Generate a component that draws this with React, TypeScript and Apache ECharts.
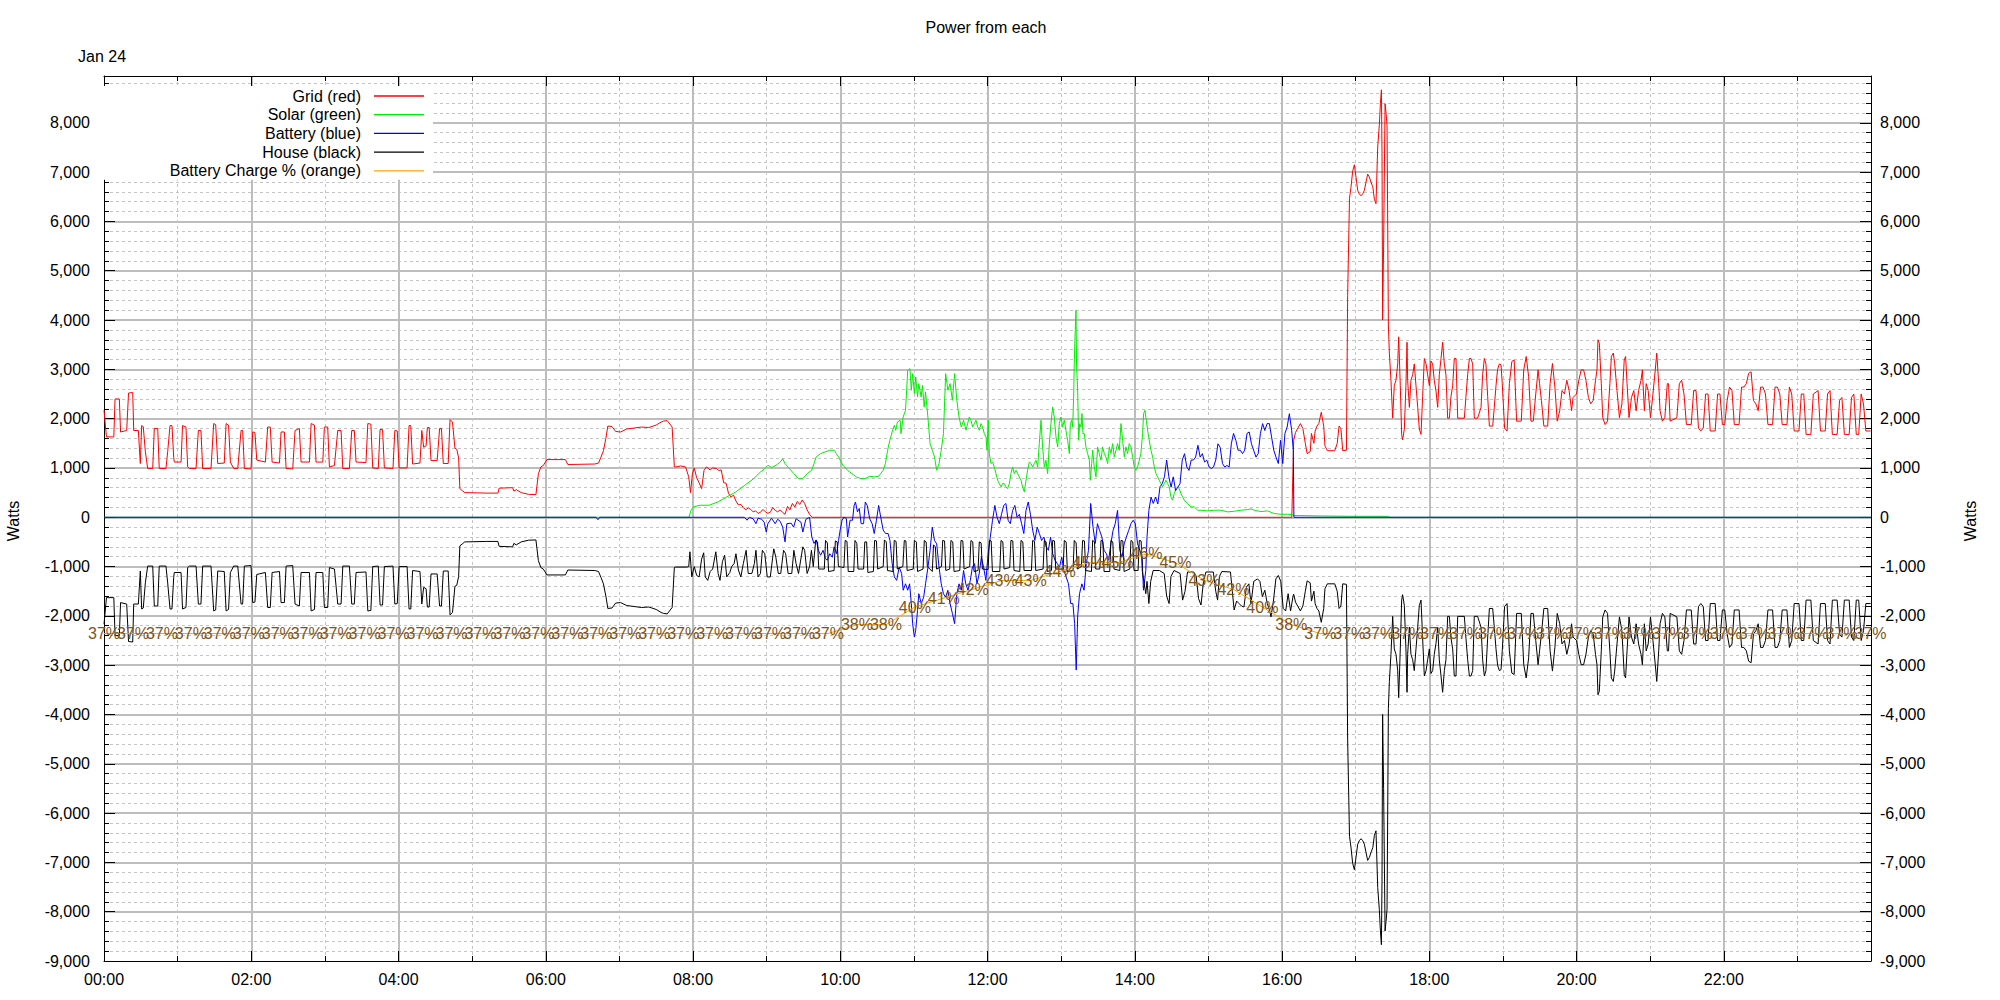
import React, { useEffect, useRef } from 'react';
import * as echarts from 'echarts';

const FONT = '"Liberation Sans", Arial, Helvetica, sans-serif';

// time axis is minutes after midnight (Jan 24)
const hourLabels = ['00:00', '02:00', '04:00', '06:00', '08:00', '10:00', '12:00', '14:00', '16:00', '18:00', '20:00', '22:00'];
const seriesNames = ['Grid (red)', 'Solar (green)', 'Battery (blue)', 'House (black)', 'Battery Charge % (orange)'];
const seriesColors = ['#ff0000', '#00ee00', '#0000ff', '#000000', '#ffa500'];

const gridNight = [
[0,2170],[2,1630],[8,1630],[9,2400],[12.5,2400],[13.5,1730],[18.5,1760],[20,2520],[23.4,2530],[24.2,1760],[28,1760],[29.6,1090],[30.7,1860],[32,1840],[33.7,1330],[35.6,990],[39.7,990],[41,1800],[43.8,1800],[45,990],[50.5,990],[51.9,1330],[53.8,1860],[55.4,1860],[56.8,1220],[57.3,1120],[62.8,1120],[64,1860],[66.8,1830],[68.2,1020],[69.6,990],[75,990],[76.9,1760],[79,1760],[80.4,990],[87.2,990],[89.4,1900],[91,1880],[92.7,1090],[98,1100],[99.5,1900],[101.5,1870],[103,1120],[105.7,990],[109,990],[111.7,1760],[113,1760],[114.4,990],[119.8,980],[121.2,1730],[123,1720],[124.5,1160],[131.5,1120],[133.4,1830],[135.5,1830],[137,1120],[143,1100],[144.3,1730],[147,1730],[148.4,990],[153.8,980],[155.7,1760],[159.2,1800],[160.6,1120],[167.4,1120],[168.8,1900],[171.5,1870],[172.8,1120],[178.3,1120],[179.6,1830],[182.3,1830],[183.7,1020],[187.8,1050],[190.5,1760],[193.2,1760],[194.6,990],[200,990],[201.9,1760],[204,1760],[205.4,1120],[213.5,1110],[215,1900],[217.5,1890],[219,1000],[223.5,990],[225,1780],[227,1780],[228.5,1000],[235.5,990],[237,1760],[239,1750],[240.5,1000],[247,1000],[248.6,1860],[250,1860],[251.5,1080],[257.5,1100],[259,1760],[260.5,1420],[262.5,1450],[263.5,1820],[265,1820],[266.5,1150],[271.5,1150],[273.5,1800],[275,1800],[276.5,1090],[280.5,1090],[282,1980],[284,1930],[286,1400],[287.5,1380],[289,1200],[290,580],[292,540],[294,500],[312,490],[321,490],[322,590],[333,600],[334,530],[336,560],[340,500],[346,465],[352,460],[354,880],[356,1020],[358,1050],[361,1170],[376,1170],[378,1070],[400,1080],[403,1100],[405,1220],[407,1350],[409,1600],[410.6,1850],[414,1840],[417,1740],[421,1730],[426,1790],[432,1810],[438,1830],[444,1820],[450,1870],[454,1930],[456,1950],[459,1960],[463,1830],[464.8,1020]
];
const gridDay = [
[466,1020],[470,1040],[474,1020],[476.5,820],[478,500],[479.5,880],[481,1000],[483,800],[485,700],[487,580],[489,950],[491,1020],[494,960],[496,1000],[499,990],[501,950],[503,960],[505,700],[507,690],[509,480],[511,410],[513,450],[515,330],[517,250],[519,260],[521,200],[523,150],[525,190],[527,160],[529,110],[531,130],[533,80],[535,100],[537,160],[539,110],[541,80],[543,100],[545,200],[547,140],[549,110],[551,150],[553,100],[555,60],[557,220],[559,150],[561,280],[563,210],[565,320],[567,260],[569,350],[571,280],[573,150],[575,60],[577,0],[968,0]
];
const gridEvening = [
[969.5,1560],[971,1720],[975,1900],[977,1800],[979,1500],[980.5,1290],[983,1330],[984,1700],[986,1500],[987,1750],[988.5,1850],[990,1900],[992,2130],[994,1850],[995,1450],[997,1350],[1003,1350],[1005,1500],[1006.5,1850],[1008,1800],[1009.5,1350],[1012.5,1360],[1013.5,4500],[1015,6470],[1016.2,6690],[1017.6,7020],[1019,7150],[1020.3,6900],[1021.7,6630],[1023,6560],[1024.4,6520],[1025.8,6560],[1027.1,6630],[1028.5,6800],[1029.8,6960],[1031.2,6900],[1032.5,6800],[1034,6700],[1035.3,6450],[1036.6,6360],[1038,7510],[1039.3,7950],[1040.2,8390],[1041,8670],[1041.5,7400],[1042,4000],[1042.8,5500],[1044,8390],[1044.8,8200],[1045.6,7950],[1046.7,3880],[1047.5,3330],[1048.8,2780],[1050.2,2010],[1051.5,2670],[1052.9,2780],[1054.3,3110],[1055.1,3660],[1056.4,2670],[1057.5,1680],[1058.3,1570],[1059.7,1790],[1061,2670],[1061.9,3550],[1062.4,2780],[1063.8,2230],[1065.1,2780],[1066.5,2890],[1067.8,3110],[1069.2,2670],[1070.6,2230],[1071.9,1790],[1073.3,1680],[1074.6,2450],[1076,3220],[1077.4,3110],[1078.7,2890],[1080.1,2670],[1081.4,3170],[1082.8,3110],[1084.1,2780],[1085.5,2560],[1086.9,2230],[1088.2,2890],[1089.6,3220],[1090.9,3550],[1092.3,3110],[1093.6,2890],[1095,2010],[1096.4,2010],[1097.7,2450],[1099.1,2670],[1100.4,3220],[1101.8,3220],[1103.2,2010],[1108.6,2010],[1109.9,2450],[1111.3,2890],[1112.7,3220],[1114,3220],[1115.4,3110],[1116.7,2010],[1119.4,2010],[1122.2,2230],[1123.5,2890],[1124.9,3220],[1126.2,3110],[1127.6,2450],[1129,1850],[1131.7,1850],[1133,2230],[1134.4,2670],[1135.7,3000],[1137.1,3110],[1138.5,3090],[1139.5,2710],[1141.4,1810],[1143.4,1750],[1145.3,2710],[1147.3,3160],[1149.2,3190],[1151.2,1950],[1155,1950],[1157,2990],[1159,3260],[1161,2850],[1162.9,1950],[1164.8,1950],[1166.8,2500],[1168.7,2990],[1169.9,2710],[1171.4,2370],[1173.4,1850],[1176.5,1850],[1178.5,2710],[1180.4,3120],[1182.4,2640],[1184.3,1950],[1186.3,2160],[1188.2,2570],[1190.2,2500],[1192.1,2780],[1194,2570],[1196,2160],[1197.2,2430],[1200,2500],[1201.9,2780],[1203.8,2990],[1205.8,2990],[1207.7,2780],[1209.7,2430],[1211.6,2300],[1213.6,2370],[1215.5,2780],[1216.7,2990],[1217.5,3600],[1218.6,3530],[1220.2,2710],[1221.4,2020],[1223.3,1880],[1225.3,1950],[1227.2,2710],[1228.4,3260],[1230,3330],[1231.1,3120],[1233,2570],[1235,2020],[1237,2300],[1238.9,3190],[1240,3260],[1241.2,2710],[1242.8,2020],[1244.8,2430],[1246.7,2570],[1248.6,2160],[1250.6,2570],[1252.6,2780],[1253.7,2990],[1255.3,2160],[1256.8,2710],[1258.4,2570],[1260.3,2020],[1262.3,2500],[1264.2,2990],[1265.4,3330],[1267,2710],[1268.1,2160],[1270,1950],[1272,2020],[1274,2710],[1275,2710],[1276.3,1950],[1281.8,2020],[1283.8,2710],[1285.7,2780],[1287.6,2500],[1289.6,1880],[1293.5,1880],[1295.5,2570],[1297.4,2570],[1299.4,1810],[1301.3,1750],[1303.3,1810],[1305.2,2500],[1307.2,2500],[1309,1750],[1313,1750],[1315,2500],[1316.9,2500],[1318.9,1880],[1320.8,1880],[1322.8,2370],[1324.7,2640],[1326.7,2570],[1328.6,1880],[1332.5,1880],[1334.5,2640],[1336.4,2640],[1338.4,2710],[1340.3,2920],[1342.3,2950],[1344.2,2370],[1346.2,2300],[1348.1,2160],[1350,2640],[1352,2640],[1354,2500],[1356,1880],[1359.8,1880],[1361.8,2640],[1363.7,2640],[1365.7,2500],[1367.6,1880],[1371.5,1880],[1373.5,2640],[1375.4,2500],[1377.4,1750],[1381.3,1750],[1383.2,2500],[1385.2,2500],[1387.1,1680],[1391,1680],[1393,2500],[1396.9,2570],[1398.8,1750],[1402.7,1750],[1404.6,2500],[1406.6,2570],[1408.5,1680],[1412.4,1680],[1414.4,2370],[1416.3,2430],[1418.3,1680],[1422.2,1680],[1424.1,2430],[1426,2500],[1428,1680],[1430,1680],[1432,2500],[1433.9,2300],[1435.8,1750],[1439.7,1750]
];

const solarDay = [
[0,0],[476.7,0],[478.5,150],[480.4,210],[485.8,244],[493.1,244],[500.4,311],[507.6,413],[514.9,514],[522.2,649],[529.5,784],[535,920],[538.6,987],[541.1,1055],[544,1007],[547.7,1055],[551.3,1122],[553.1,1190],[555,1089],[558.6,987],[562.2,886],[565.9,784],[569.5,784],[573.1,886],[576.8,953],[580.4,1224],[584,1291],[587.7,1325],[591.3,1359],[595,1359],[596.8,1291],[598.6,1224],[602.2,1055],[605.9,953],[609.5,886],[613.1,818],[616.8,784],[620.4,784],[624,832],[627.7,818],[631.3,832],[635,953],[636.8,1089],[638.6,1359],[640.4,1562],[642.3,1731],[644.1,1866],[645.2,1765],[646.6,1934],[648.8,1967],[649.5,1697],[651.3,2035],[653.2,2170],[655,2981],[656.8,3015],[657.9,2576],[659,2914],[660.4,2508],[661.5,2846],[663,2441],[664,2711],[665.9,2441],[667,2677],[668.4,2238],[669.5,2542],[671.4,2035],[673.2,1494],[675,1359],[676.8,1224],[678.6,953],[680.5,1089],[682.3,1359],[684.1,1697],[685.9,2914],[687.7,2576],[689.5,2711],[691.4,2373],[693.2,2914],[695,2373],[696.8,2035],[698.6,1832],[700.5,1967],[702.5,1765],[703.8,1900],[705.2,2035],[706.5,1968],[707.9,1833],[709.3,1900],[710.6,1968],[712,1833],[713.3,1765],[714.7,1900],[716,1833],[717.4,1697],[718.8,1630],[719.6,1359],[720.7,1968],[721.5,1292],[722.8,1089],[724.2,1123],[725.5,1021],[726.9,886],[728.3,751],[729.6,683],[731,616],[732.3,683],[733.7,683],[735,616],[736.4,582],[737.8,683],[739.1,886],[740.5,1021],[741.8,886],[743.2,954],[744.6,886],[745.9,819],[747.3,751],[748.6,616],[750,514],[751.4,751],[752.7,954],[754.1,1123],[755.4,1089],[756.8,1021],[758.1,1089],[759.5,1157],[760.9,1021],[762.2,1494],[763.6,1968],[764.9,1427],[766.3,1021],[767.6,1157],[769,886],[770.4,1494],[771.7,1900],[773.1,2238],[774.4,2035],[775.8,1630],[777.2,1427],[778.5,1900],[779.9,2035],[781.2,1833],[782.6,1968],[783.9,1765],[785.3,1562],[786.7,1292],[787.5,1900],[788.6,1968],[789.4,1833],[790.2,2441],[790.7,3117],[791.5,3793],[792.1,4199],[792.6,3050],[793.4,2644],[794.3,1562],[795.1,1900],[796.2,1833],[797,2103],[797.8,1697],[798.9,1697],[800.2,1427],[801.6,1292],[803,1157],[803.8,751],[804.9,1089],[805.7,1359],[807,1021],[808.4,819],[809.7,1427],[811.1,1292],[812.5,1157],[813.8,1427],[815.2,1292],[816.5,1224],[817.9,1089],[819.3,1427],[820.6,1292],[822,1494],[823.3,1224],[824.7,1359],[826,1494],[827.4,1359],[828.8,1900],[830.1,1562],[831.5,1224],[832.8,1427],[834.2,1292],[835.5,1494],[836.9,1427],[838.3,1224],[839.6,1021],[841,954],[842.3,1021],[843.7,1157],[845,1292],[846.4,1697],[847.2,2103],[848.3,2170],[849.4,1968],[850.5,1765],[851.8,1562],[853.2,1359],[854.6,1224],[855.9,1021],[857.3,886],[858.6,819],[860,751],[861.3,683],[862.7,616],[864.1,683],[865.4,751],[866.8,683],[868.1,616],[869.5,413],[870.8,346],[872.2,481],[873.6,582],[874.9,616],[876.3,582],[877.6,481],[879,413],[880.4,346],[883.1,278],[885.8,210],[888.5,210],[891.2,143],[893.9,143],[899.4,129],[904.8,143],[910.2,143],[915.7,109],[921.1,122],[926.5,143],[932,156],[934.7,170],[937.4,143],[942.8,116],[948.3,129],[953.7,75],[959.1,61],[964.6,61],[968.6,54],[970,34],[975.4,34],[989,27],[1016,20],[1046,20],[1048,0],[1440,0]
];

const batteryDay = [
[0,0],[401,0],[402.5,-50],[404,0],[522,0],[524,-60],[526,0],[529,-30],[531.3,-130],[533,-20],[536,-40],[538,-100],[539.7,-300],[541,-130],[544,-20],[547,-130],[549,-40],[551,-80],[553.1,-200],[555,-500],[556.5,-130],[560,-120],[562,-200],[564,-30],[568,-100],[569.5,-300],[572,-40],[575,0],[576.8,-400],[578.6,-530],[580.5,-460],[582.2,-670],[584,-770],[586,-670],[588,-840],[589.5,-870],[591.5,-740],[593.5,-810],[595,-600],[597,-740],[598.6,-470],[600,-250],[601.5,-60],[603,0],[605,-30],[606,-400],[608,-60],[610,-60],[611.3,240],[612.4,310],[614,110],[615.5,180],[617,-130],[619,-130],[620.4,310],[622,240],[624,-30],[626,-130],[627.7,-330],[629.5,-60],[631.3,240],[633,0],[635,-260],[637,-330],[639,-330],[640.5,-470],[642.3,-940],[644.1,-1210],[646,-1280],[648,-1010],[650,-1140],[651.3,-1480],[653.2,-1350],[655,-1480],[656.5,-1350],[657.9,-1750],[659,-2160],[660.4,-2430],[661.5,-2290],[663,-1890],[664,-1550],[666,-1750],[668,-1620],[669.5,-1350],[671.5,-1010],[673.2,-670],[675,-200],[676.8,-470],[678.6,-540],[680.5,-1010],[682.3,-1350],[684.1,-1550],[685.9,-1620],[687.7,-1480],[689.5,-1750],[691.4,-1950],[693.2,-2160],[695,-1550],[696.8,-1350],[698.6,-1480],[700.5,-1080],[702.3,-1350],[704.1,-1480],[706,-1280],[707.7,-1010],[709.5,-940],[711.4,-1350],[713.2,-1150],[715,-810],[716.8,-1010],[718.7,-1280],[720.5,-740],[722.3,-400],[724.1,-60],[726,240],[727.8,0],[729.6,-130],[731.4,60],[733.2,240],[735,280],[736.8,-60],[738.6,-130],[740.5,140],[742.3,240],[744.1,0],[746,60],[747.8,-130],[749.6,-330],[751.4,140],[753.2,310],[755,60],[756.8,-260],[758.6,-470],[760.5,-200],[762.3,-330],[764.1,-470],[766,-400],[767.8,-600],[769.6,-670],[771.4,-400],[773.2,-740],[775,-870],[776.9,-940],[778.7,-1010],[780.5,-810],[782.3,-1080],[784.1,-1210],[786,-1350],[787.8,-1750],[789.6,-1750],[791,-2150],[792.3,-3100],[793.5,-2000],[795,-1550],[796.9,-1350],[798.7,-1480],[800.5,-940],[802.3,-670],[804.1,280],[806,-200],[807.8,-530],[809.6,-130],[811.4,-270],[813.2,-400],[815,-670],[816.9,-740],[818.7,-870],[820.5,-540],[822.3,-270],[824.1,-130],[826,140],[827.8,-670],[829.6,-810],[831.4,-540],[833.2,-400],[835,-270],[836.9,-130],[838.7,-60],[840.5,-130],[842.3,-540],[844.1,-670],[846,-810],[847.1,-1480],[849,-1080],[850,-400],[851.5,140],[853.3,410],[855.1,280],[857,410],[858.8,270],[860.6,620],[862.4,680],[864.2,820],[866,1160],[867.8,820],[869.6,610],[871.4,820],[873.3,540],[875.1,610],[876.9,680],[878.7,1160],[880.6,1290],[882.4,1020],[884.2,950],[886,1160],[887.8,1160],[889.6,1220],[891.5,1460],[893.3,1220],[895.1,1290],[896.9,1120],[898.7,1160],[900.6,1020],[902.4,990],[904.2,1020],[906,1160],[907.8,1490],[909.6,1420],[911.5,1090],[913.3,1020],[915.1,1050],[916.9,1020],[918.7,1490],[920.5,1700],[922.4,1560],[924.2,1360],[926,1360],[927.8,1290],[929.6,1360],[931.5,1700],[933.3,1730],[935.1,1490],[936.9,1360],[938.8,1220],[940.6,1290],[942.4,1700],[944.2,1900],[946,1760],[947.9,1900],[949.7,1900],[951.5,1630],[953.3,1360],[955.1,1220],[957,1090],[958.8,1560],[960.6,1090],[962.4,1700],[964.2,1830],[966,2100],[967.9,1760],[969.2,1360],[969.7,0],[1440,0]
];

const houseNight = [
[0,-2170],[2,-1630],[8,-1630],[9,-2400],[12.5,-2400],[13.5,-1730],[18.5,-1760],[20,-2520],[23.4,-2530],[24.2,-1760],[28,-1760],[29.6,-1090],[30.7,-1860],[32,-1840],[33.7,-1330],[35.6,-990],[39.7,-990],[41,-1800],[43.8,-1800],[45,-990],[50.5,-990],[51.9,-1330],[53.8,-1860],[55.4,-1860],[56.8,-1220],[57.3,-1120],[62.8,-1120],[64,-1860],[66.8,-1830],[68.2,-1020],[69.6,-990],[75,-990],[76.9,-1760],[79,-1760],[80.4,-990],[87.2,-990],[89.4,-1900],[91,-1880],[92.7,-1090],[98,-1100],[99.5,-1900],[101.5,-1870],[103,-1120],[105.7,-990],[109,-990],[111.7,-1760],[113,-1760],[114.4,-990],[119.8,-980],[121.2,-1730],[123,-1720],[124.5,-1160],[131.5,-1120],[133.4,-1830],[135.5,-1830],[137,-1120],[143,-1100],[144.3,-1730],[147,-1730],[148.4,-990],[153.8,-980],[155.7,-1760],[159.2,-1800],[160.6,-1120],[167.4,-1120],[168.8,-1900],[171.5,-1870],[172.8,-1120],[178.3,-1120],[179.6,-1830],[182.3,-1830],[183.7,-1020],[187.8,-1050],[190.5,-1760],[193.2,-1760],[194.6,-990],[200,-990],[201.9,-1760],[204,-1760],[205.4,-1120],[213.5,-1110],[215,-1900],[217.5,-1890],[219,-1000],[223.5,-990],[225,-1780],[227,-1780],[228.5,-1000],[235.5,-990],[237,-1760],[239,-1750],[240.5,-1000],[247,-1000],[248.6,-1860],[250,-1860],[251.5,-1080],[257.5,-1100],[259,-1760],[260.5,-1420],[262.5,-1450],[263.5,-1820],[265,-1820],[266.5,-1150],[271.5,-1150],[273.5,-1800],[275,-1800],[276.5,-1090],[280.5,-1090],[282,-1980],[284,-1930],[286,-1400],[287.5,-1380],[289,-1200],[290,-580],[292,-540],[294,-500],[312,-490],[321,-490],[322,-590],[333,-600],[334,-530],[336,-560],[340,-500],[346,-465],[352,-460],[354,-880],[356,-1020],[358,-1050],[361,-1170],[376,-1170],[378,-1070],[400,-1080],[403,-1100],[405,-1220],[407,-1350],[409,-1600],[410.6,-1850],[414,-1840],[417,-1740],[421,-1730],[426,-1790],[432,-1810],[438,-1830],[444,-1820],[450,-1870],[454,-1930],[456,-1950],[459,-1960],[463,-1830],[464.8,-1020]
];
const houseDay = [
[466,-1010],[475,-1010],[476.5,-1000],[477.5,-700],[479,-1210],[481,-1000],[483,-1180],[485,-1210],[487,-850],[488.7,-720],[490,-1210],[492,-1280],[494,-1100],[496,-1050],[498.6,-700],[500.5,-1140],[502,-1280],[504,-900],[505.8,-770],[507.5,-1210],[510,-1120],[511.5,-1000],[513.5,-940],[515,-740],[517,-1070],[519,-1210],[521,-940],[523.3,-670],[525,-1140],[528,-1140],[530,-940],[531.3,-670],[533,-1210],[535,-1140],[536.5,-670],[538.5,-740],[540.5,-1210],[543,-1210],[545.8,-640],[547.5,-810],[549.5,-1140],[551.5,-1140],[553.8,-670],[555.5,-740],[557.5,-1140],[560.5,-1140],[562.2,-670],[564,-940],[566,-1140],[569.5,-600],[571,-670],[573,-1140],[575,-1000],[576.5,-670],[578,-1000],[580,-470],[581.5,-500],[582.5,-1050],[587,-1050],[588,-470],[589.5,-520],[590.5,-1100],[595,-1080],[596,-480],[597.5,-500],[598.5,-1000],[603,-1020],[604,-470],[605.5,-490],[606.5,-1100],[611,-1100],[612,-470],[613.5,-530],[614.5,-1050],[619,-1050],[620,-500],[621.5,-500],[622.5,-1120],[627,-1100],[628,-470],[629.5,-480],[630.5,-1050],[635,-1000],[636,-460],[637.5,-500],[638.5,-1080],[643,-1100],[644,-470],[645.5,-490],[646.5,-1050],[651,-1000],[652.2,-470],[653.5,-480],[654.5,-1080],[659.5,-1050],[660.4,-470],[662,-500],[663,-1100],[667.5,-1050],[668.5,-470],[670,-500],[671,-1000],[675,-1100],[676,-560],[677.5,-600],[678.5,-1050],[682.5,-1000],[683.5,-470],[685,-480],[686,-1080],[689.2,-1050],[690.2,-470],[691.7,-500],[692.7,-1100],[697.4,-1080],[698.4,-470],[699.9,-480],[700.9,-1050],[705.5,-1000],[706.5,-470],[708,-500],[709,-1100],[712.3,-1080],[713.3,-500],[714.8,-520],[715.8,-1050],[720.5,-1060],[721.5,-470],[723,-480],[724,-1100],[730,-1100],[731,-470],[732.5,-500],[733.5,-1050],[738.1,-1020],[739.1,-470],[740.6,-480],[741.6,-1080],[746.3,-1100],[747.3,-470],[748.8,-500],[749.8,-1080],[755.8,-1080],[756.8,-470],[758.3,-490],[759.3,-1080],[765.3,-1050],[766.3,-470],[767.8,-500],[768.8,-1100],[772.1,-1080],[773.1,-470],[774.6,-480],[775.6,-1050],[781.6,-1050],[782.6,-470],[784.1,-500],[785.1,-1100],[789.7,-1080],[790.7,-470],[792.2,-520],[793.2,-1050],[796.5,-1000],[797.5,-470],[799,-480],[800,-1080],[804.7,-1100],[805.7,-470],[807.2,-500],[808.2,-1050],[811.5,-1050],[812.5,-470],[814,-490],[815,-1100],[819.6,-1100],[820.6,-470],[822.1,-500],[823.1,-1050],[827.8,-1080],[828.8,-470],[830.3,-480],[831.3,-1100],[835.9,-1050],[836.9,-470],[838.4,-500],[839.4,-1080],[842.7,-1080],[843.7,-470],[845.2,-480],[846.2,-1100],[849,-1550],[850,-1300],[851.5,-1750],[853,-1300],[855,-1080],[860,-1080],[864,-1140],[866,-1600],[868,-1750],[869.5,-1200],[872,-1080],[877,-1140],[879,-1680],[881,-1500],[883,-1110],[888,-1110],[890,-1180],[892,-1650],[894,-1780],[896,-1300],[898,-1110],[904,-1110],[906,-1500],[907.5,-1680],[909,-1200],[911,-1100],[918,-1110],[919.5,-1500],[921,-1880],[923,-1700],[925,-1750],[927,-1800],[929,-1820],[931,-1420],[933,-1350],[934.7,-1750],[937,-1300],[940,-1250],[942,-1300],[944,-1610],[946,-1480],[948,-1750],[950,-1900],[951,-2020],[953,-1700],[955,-1250],[957,-1180],[959,-1300],[961,-1850],[963,-1900],[965,-1550],[967,-1900],[969,-1600]
];
const houseEvening = [
[969.5,-1560],[971,-1720],[975,-1900],[977,-1800],[979,-1500],[980.5,-1290],[983,-1330],[984,-1700],[986,-1500],[987,-1750],[988.5,-1850],[990,-1900],[992,-2130],[994,-1850],[995,-1450],[997,-1350],[1003,-1350],[1005,-1500],[1006.5,-1850],[1008,-1800],[1009.5,-1350],[1012.5,-1360],[1013.5,-4500],[1015,-6470],[1016.2,-6690],[1017.6,-7020],[1019,-7150],[1020.3,-6900],[1021.7,-6630],[1023,-6560],[1024.4,-6520],[1025.8,-6560],[1027.1,-6630],[1028.5,-6800],[1029.8,-6960],[1031.2,-6900],[1032.5,-6800],[1034,-6700],[1035.3,-6450],[1036.6,-6360],[1038,-7510],[1039.3,-7950],[1040.2,-8390],[1041,-8670],[1041.5,-7400],[1042,-4000],[1042.8,-5500],[1044,-8390],[1044.8,-8200],[1045.6,-7950],[1046.7,-3880],[1047.5,-3330],[1048.8,-2780],[1050.2,-2010],[1051.5,-2670],[1052.9,-2780],[1054.3,-3110],[1055.1,-3660],[1056.4,-2670],[1057.5,-1680],[1058.3,-1570],[1059.7,-1790],[1061,-2670],[1061.9,-3550],[1062.4,-2780],[1063.8,-2230],[1065.1,-2780],[1066.5,-2890],[1067.8,-3110],[1069.2,-2670],[1070.6,-2230],[1071.9,-1790],[1073.3,-1680],[1074.6,-2450],[1076,-3220],[1077.4,-3110],[1078.7,-2890],[1080.1,-2670],[1081.4,-3170],[1082.8,-3110],[1084.1,-2780],[1085.5,-2560],[1086.9,-2230],[1088.2,-2890],[1089.6,-3220],[1090.9,-3550],[1092.3,-3110],[1093.6,-2890],[1095,-2010],[1096.4,-2010],[1097.7,-2450],[1099.1,-2670],[1100.4,-3220],[1101.8,-3220],[1103.2,-2010],[1108.6,-2010],[1109.9,-2450],[1111.3,-2890],[1112.7,-3220],[1114,-3220],[1115.4,-3110],[1116.7,-2010],[1119.4,-2010],[1122.2,-2230],[1123.5,-2890],[1124.9,-3220],[1126.2,-3110],[1127.6,-2450],[1129,-1850],[1131.7,-1850],[1133,-2230],[1134.4,-2670],[1135.7,-3000],[1137.1,-3110],[1138.5,-3090],[1139.5,-2710],[1141.4,-1810],[1143.4,-1750],[1145.3,-2710],[1147.3,-3160],[1149.2,-3190],[1151.2,-1950],[1155,-1950],[1157,-2990],[1159,-3260],[1161,-2850],[1162.9,-1950],[1164.8,-1950],[1166.8,-2500],[1168.7,-2990],[1169.9,-2710],[1171.4,-2370],[1173.4,-1850],[1176.5,-1850],[1178.5,-2710],[1180.4,-3120],[1182.4,-2640],[1184.3,-1950],[1186.3,-2160],[1188.2,-2570],[1190.2,-2500],[1192.1,-2780],[1194,-2570],[1196,-2160],[1197.2,-2430],[1200,-2500],[1201.9,-2780],[1203.8,-2990],[1205.8,-2990],[1207.7,-2780],[1209.7,-2430],[1211.6,-2300],[1213.6,-2370],[1215.5,-2780],[1216.7,-2990],[1217.5,-3600],[1218.6,-3530],[1220.2,-2710],[1221.4,-2020],[1223.3,-1880],[1225.3,-1950],[1227.2,-2710],[1228.4,-3260],[1230,-3330],[1231.1,-3120],[1233,-2570],[1235,-2020],[1237,-2300],[1238.9,-3190],[1240,-3260],[1241.2,-2710],[1242.8,-2020],[1244.8,-2430],[1246.7,-2570],[1248.6,-2160],[1250.6,-2570],[1252.6,-2780],[1253.7,-2990],[1255.3,-2160],[1256.8,-2710],[1258.4,-2570],[1260.3,-2020],[1262.3,-2500],[1264.2,-2990],[1265.4,-3330],[1267,-2710],[1268.1,-2160],[1270,-1950],[1272,-2020],[1274,-2710],[1275,-2710],[1276.3,-1950],[1281.8,-2020],[1283.8,-2710],[1285.7,-2780],[1287.6,-2500],[1289.6,-1880],[1293.5,-1880],[1295.5,-2570],[1297.4,-2570],[1299.4,-1810],[1301.3,-1750],[1303.3,-1810],[1305.2,-2500],[1307.2,-2500],[1309,-1750],[1313,-1750],[1315,-2500],[1316.9,-2500],[1318.9,-1880],[1320.8,-1880],[1322.8,-2370],[1324.7,-2640],[1326.7,-2570],[1328.6,-1880],[1332.5,-1880],[1334.5,-2640],[1336.4,-2640],[1338.4,-2710],[1340.3,-2920],[1342.3,-2950],[1344.2,-2370],[1346.2,-2300],[1348.1,-2160],[1350,-2640],[1352,-2640],[1354,-2500],[1356,-1880],[1359.8,-1880],[1361.8,-2640],[1363.7,-2640],[1365.7,-2500],[1367.6,-1880],[1371.5,-1880],[1373.5,-2640],[1375.4,-2500],[1377.4,-1750],[1381.3,-1750],[1383.2,-2500],[1385.2,-2500],[1387.1,-1680],[1391,-1680],[1393,-2500],[1396.9,-2570],[1398.8,-1750],[1402.7,-1750],[1404.6,-2500],[1406.6,-2570],[1408.5,-1680],[1412.4,-1680],[1414.4,-2370],[1416.3,-2430],[1418.3,-1680],[1422.2,-1680],[1424.1,-2430],[1426,-2500],[1428,-1680],[1430,-1680],[1432,-2500],[1433.9,-2300],[1435.8,-1750],[1439.7,-1750]
];

const chargeTimes = [0,23.6,47.2,70.8,94.4,118,141.6,165.2,188.8,212.4,236,259.6,283.2,306.8,330.4,354,377.6,401.2,424.8,448.4,472,495.6,519.2,542.8,566.4,590,613.6,637.2,660.8,684.4,708,731.6,755.2,778.8,802.4,826,849.6,873.2,896.8,920.4,944,967.6,991.2,1014.8,1038.4,1062,1085.6,1109.2,1132.8,1156.4,1180,1203.6,1227.2,1250.8,1274.4,1298,1321.6,1345.2,1368.8,1392.4,1416,1439.6];
const chargePct = [37,37,37,37,37,37,37,37,37,37,37,37,37,37,37,37,37,37,37,37,37,37,37,37,37,37,38,38,40,41,42,43,43,44,45,45,46,45,43,42,40,38,37,37,37,37,37,37,37,37,37,37,37,37,37,37,37,37,37,37,37,37];

const yFormatter = (v: number) => (Math.abs(v % 1000) < 1e-6 ? v.toLocaleString('en-US') : '');
const xFormatter = (v: number) => hourLabels[Math.round(v / 120)] ?? '';

function buildOption() {
  const baseLine = (i: number, data: number[][], yAxisIndex = 0) => ({
    name: seriesNames[i],
    type: 'line',
    data,
    yAxisIndex,
    xAxisIndex: 0,
    showSymbol: false,
    symbol: 'none',
    silent: true,
    lineStyle: { color: seriesColors[i], width: 1 },
    itemStyle: { color: seriesColors[i] },
    emphasis: { disabled: true },
  });

  const chargeData = chargeTimes.map((t, i) => [t, chargePct[i]]);

  const tickStyle = { color: '#000', width: 1 };
  const majorGrid = { color: '#bdbdbd', width: 2 };
  const minorGrid = { color: '#c4c4c4', width: 1, type: [3, 3] };

  return {
    animation: false,
    backgroundColor: '#ffffff',
    textStyle: { fontFamily: FONT },
    grid: { left: 104, right: 129, top: 76, height: 885, containLabel: false, outerBoundsMode: 'none' },
    legend: {
      orient: 'vertical',
      align: 'right',
      right: 1567,
      top: 86,
      padding: [2, 9, 1, 66],
      backgroundColor: '#ffffff',
      itemWidth: 50,
      itemHeight: 14,
      itemGap: 2.7,
      selectedMode: false,
      textStyle: { color: '#000', fontSize: 16, fontFamily: FONT, padding: [0, 8, 0, 0] },
      data: seriesNames.map((name, i) => ({ name, icon: 'path://M0,0H50V1.3H0Z', itemStyle: { color: seriesColors[i] } })),
    },
    xAxis: [
      {
        type: 'value', min: 0, max: 1440, interval: 120, position: 'bottom',
        axisLine: { show: true, onZero: false, lineStyle: tickStyle },
        axisTick: { show: true, inside: true, length: 10, lineStyle: tickStyle },
        minorTick: { show: true, splitNumber: 2, length: 5, lineStyle: tickStyle },
        axisLabel: { show: true, margin: 10, color: '#000', fontSize: 16, fontFamily: FONT, formatter: xFormatter, showMinLabel: true, showMaxLabel: true },
        splitLine: { show: true, showMinLine: false, showMaxLine: false, lineStyle: majorGrid },
        minorSplitLine: { show: true, lineStyle: minorGrid },
      },
      {
        type: 'value', min: 0, max: 1440, interval: 120, position: 'top',
        axisLine: { show: true, onZero: false, lineStyle: tickStyle },
        axisTick: { show: true, inside: true, length: 10, lineStyle: tickStyle },
        minorTick: { show: true, splitNumber: 2, length: 5, lineStyle: tickStyle },
        axisLabel: { show: false },
        splitLine: { show: false },
        minorSplitLine: { show: false },
      },
    ],
    yAxis: [
      {
        type: 'value', min: -9000, max: 8950, interval: 1000, position: 'left',
        axisLine: { show: true, onZero: false, lineStyle: tickStyle },
        axisTick: { show: true, inside: true, length: 11, lineStyle: tickStyle },
        minorTick: { show: true, splitNumber: 5, length: 5, lineStyle: tickStyle },
        axisLabel: { show: true, margin: 14, color: '#000', fontSize: 16, fontFamily: FONT, formatter: yFormatter, showMinLabel: true, showMaxLabel: true },
        splitLine: { show: true, showMinLine: false, showMaxLine: false, lineStyle: majorGrid },
        minorSplitLine: { show: true, lineStyle: minorGrid },
      },
      {
        type: 'value', min: -9000, max: 8950, interval: 1000, position: 'right',
        axisLine: { show: true, onZero: false, lineStyle: tickStyle },
        axisTick: { show: true, inside: true, length: 11, lineStyle: tickStyle },
        minorTick: { show: true, splitNumber: 5, length: 5, lineStyle: tickStyle },
        axisLabel: { show: true, margin: 9, color: '#000', fontSize: 16, fontFamily: FONT, formatter: yFormatter, showMinLabel: true, showMaxLabel: true },
        splitLine: { show: false },
        minorSplitLine: { show: false },
      },
      { type: 'value', min: 0, max: 100, show: false, position: 'right' },
    ],
    series: [
      baseLine(0, [...gridNight, ...gridDay, ...gridEvening]),
      baseLine(1, solarDay),
      baseLine(2, batteryDay),
      baseLine(3, [...houseNight, ...houseDay, ...houseEvening]),
      {
        name: seriesNames[4],
        type: 'line',
        data: chargeData,
        yAxisIndex: 2,
        xAxisIndex: 0,
        showSymbol: true,
        symbol: 'circle',
        symbolSize: 1,
        silent: true,
        lineStyle: { color: seriesColors[4], width: 1 },
        itemStyle: { color: seriesColors[4] },
        emphasis: { disabled: true },
        label: {
          show: true,
          position: 'inside',
          color: '#80541a',
          fontSize: 16,
          fontFamily: FONT,
          formatter: (p: any) => `${p.value[1]}%`,
        },
        labelLayout: { hideOverlap: false },
      },
    ],
    graphic: [
      { type: 'text', x: 986, y: 27, silent: true, style: { text: 'Power from each', fill: '#000', fontSize: 16, fontFamily: FONT, align: 'center', verticalAlign: 'middle', textAlign: 'center', textVerticalAlign: 'middle' } },
      { type: 'text', x: 78, y: 56, silent: true, style: { text: 'Jan 24', fill: '#000', fontSize: 16, fontFamily: FONT, align: 'left', verticalAlign: 'middle', textAlign: 'left', textVerticalAlign: 'middle' } },
      { type: 'text', x: 13, y: 521, rotation: Math.PI / 2, silent: true, style: { text: 'Watts', fill: '#000', fontSize: 16, fontFamily: FONT, align: 'center', verticalAlign: 'middle', textAlign: 'center', textVerticalAlign: 'middle' } },
      { type: 'text', x: 1970, y: 521, rotation: Math.PI / 2, silent: true, style: { text: 'Watts', fill: '#000', fontSize: 16, fontFamily: FONT, align: 'center', verticalAlign: 'middle', textAlign: 'center', textVerticalAlign: 'middle' } },
    ],
  };
}

export default function App() {
  const ref = useRef<HTMLDivElement>(null);
  useEffect(() => {
    if (!ref.current) return;
    const chart = echarts.init(ref.current, undefined, { renderer: 'svg' });
    chart.setOption(buildOption() as any);
    return () => chart.dispose();
  }, []);
  return (
    <div
      ref={ref}
      style={{ position: 'fixed', left: 0, top: 0, width: 2000, height: 1000, background: '#ffffff' }}
    />
  );
}
